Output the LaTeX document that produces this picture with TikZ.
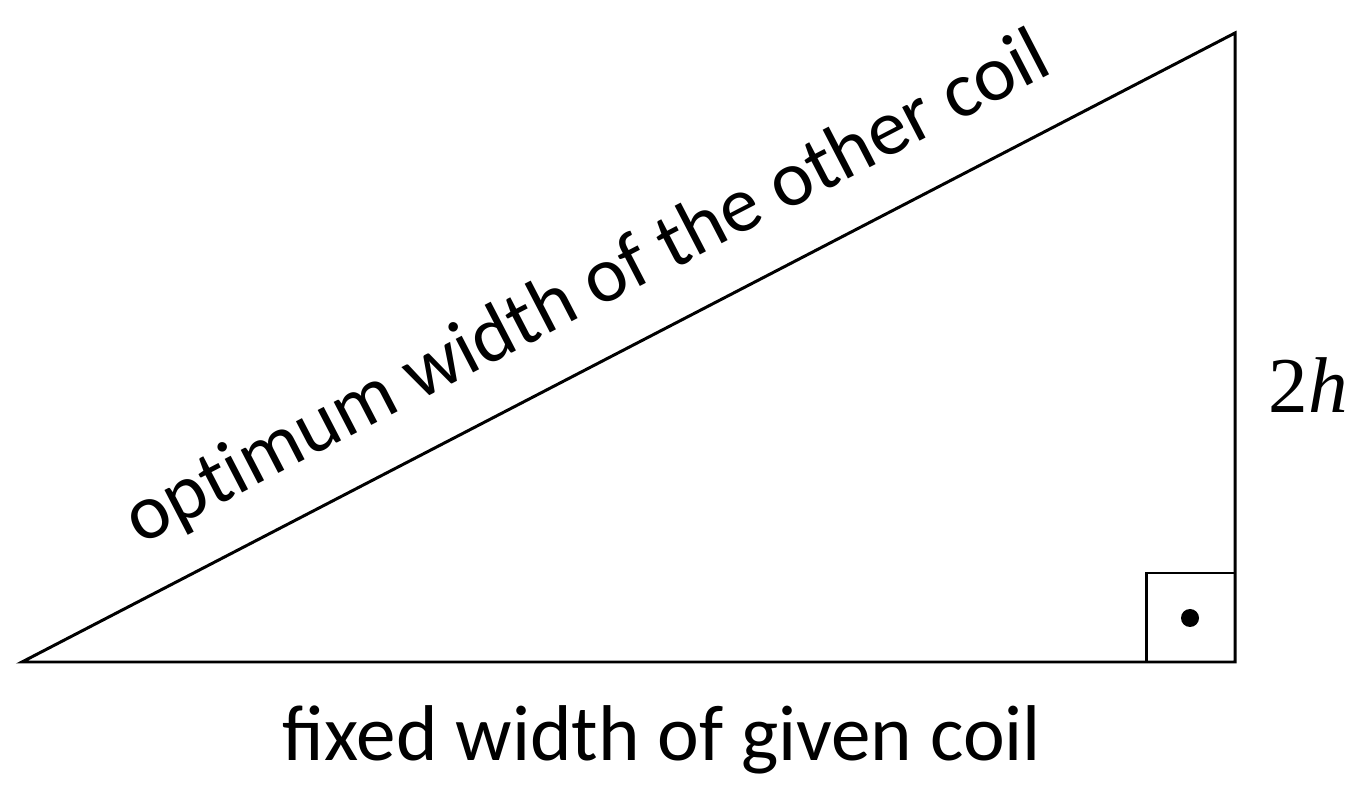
\documentclass[tikz,border=0pt]{standalone}
\usepackage{fontspec}
\setmainfont{Carlito}
\newfontfamily\mfont{Liberation Serif}
\begin{document}
\begin{tikzpicture}[x=0.02cm,y=-0.02cm,line width=1.7pt,
  lbl/.style={font=\fontsize{45}{54}\selectfont,inner sep=0pt}]
\useasboundingbox (0,0) rectangle (1367,790);
\coordinate (A) at (22,662);
\coordinate (B) at (1235,662);
\coordinate (C) at (1235,33);
\draw[line join=miter] (A) -- (B) -- (C) -- cycle;
\draw (1146,662) -- (1146,573) -- (1235,573);
\fill (1190,618) circle (9);
\node[lbl] (base) at (662,740) {fixed width of given coil};
\node[lbl,rotate=27.4] (hyp) at (588,290) {opt\kern0pt imum width of the other coil};
\node[lbl] (h) at (1308,385) {\mfont 2\textit{h}};
\end{tikzpicture}
\end{document}
